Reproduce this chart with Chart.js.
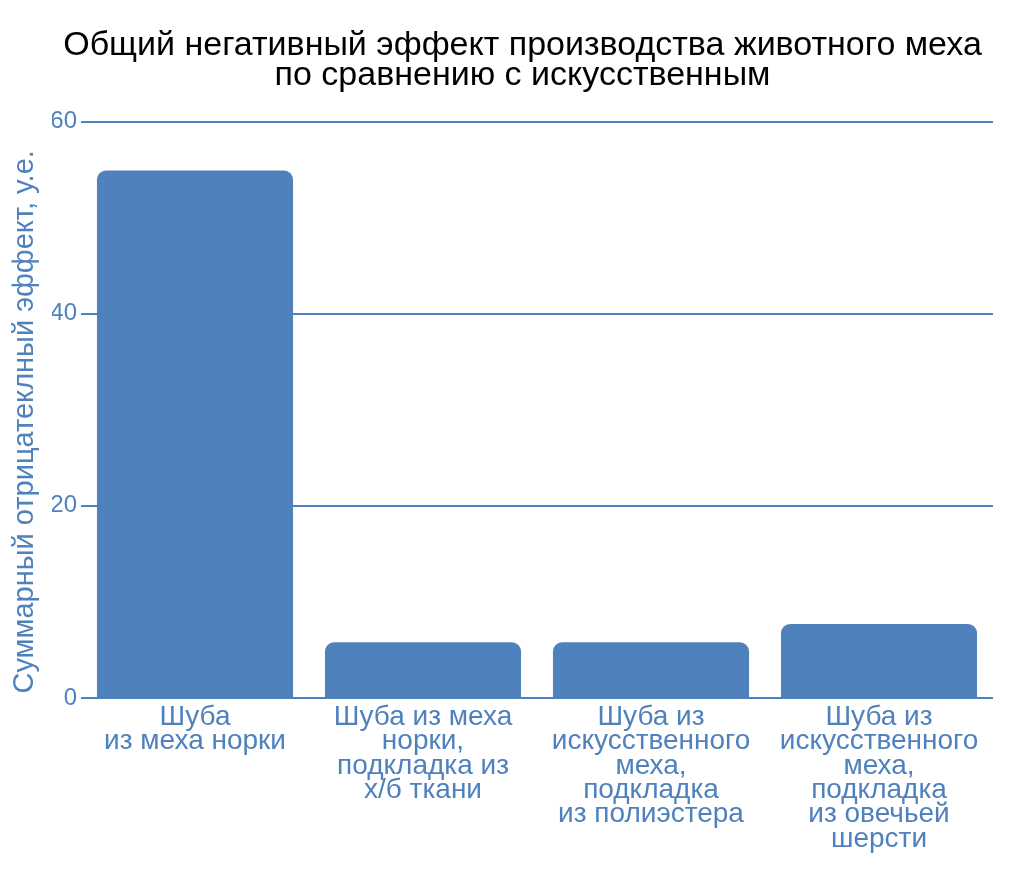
<!DOCTYPE html>
<html>
<head>
<meta charset="utf-8">
<script src="https://cdn.jsdelivr.net/npm/chart.js@4"></script>
<style>
html,body{margin:0;padding:0;background:#fff;}
#wrap{width:1024px;height:869px;position:relative;}
</style>
</head>
<body>
<div id="wrap"><canvas id="c" width="1024" height="869"></canvas></div>
<script>
const categories = [
  ["Шуба", "из меха норки"],
  ["Шуба из меха", "норки,", "подкладка из", "х/б ткани"],
  ["Шуба из", "искусственного", "меха,", "подкладка", "из полиэстера"],
  ["Шуба из", "искусственного", "меха,", "подкладка", "из овечьей", "шерсти"]
];
const values = [54.9, 5.8, 5.8, 7.7];
const titleLines = ["Общий негативный эффект производства животного меха", "по сравнению с искусственным"];
const yAxisTitle = "Суммарный отрицатеклный эффект, у.е.   ";
const yTicks = [0, 20, 40, 60];

const BLUE = "#4f81bd";
const FONT = "'Liberation Sans', Arial, sans-serif";

new Chart(document.getElementById('c'), {
  type: 'bar',
  data: {
    labels: categories,
    datasets: [{
      data: values,
      backgroundColor: BLUE,
      borderWidth: 0,
      borderRadius: 9,
      barPercentage: 0.86,
      categoryPercentage: 1.0
    }]
  },
  options: {
    responsive: false,
    animation: false,
    devicePixelRatio: 1,
    layout: { padding: { left: 52, right: 31, top: 0, bottom: 0 } },
    plugins: {
      legend: { display: false },
      tooltip: { enabled: false },
      title: {
        display: true,
        text: titleLines,
        color: '#000',
        font: { family: FONT, size: 34, weight: 'normal', lineHeight: 0.9 },
        padding: { top: 30, bottom: 30.3 }
      }
    },
    scales: {
      x: {
        grid: { display: false, drawTicks: false },
        border: { display: false },
        ticks: {
          color: BLUE,
          font: { family: FONT, size: 28, lineHeight: 0.87 },
          padding: 7,
          maxRotation: 0,
          autoSkip: false
        },
        afterFit: function(s) { s.height = 171; }
      },
      y: {
        min: 0,
        max: 60,
        afterBuildTicks: function(s) { s.ticks = yTicks.map(v => ({ value: v })); },
        grid: { color: BLUE, lineWidth: 2, drawTicks: false },
        border: { display: false },
        ticks: {
          color: BLUE,
          font: { family: FONT, size: 24 },
          padding: 4
        },
        title: {
          display: true,
          text: yAxisTitle,
          color: BLUE,
          font: { family: FONT, size: 29, weight: 'normal', lineHeight: 1.2 },
          padding: { top: -44, bottom: 0 }
        },
        afterFit: function(s) { s.width = 29; }
      }
    }
  }
});
</script>
</body>
</html>
